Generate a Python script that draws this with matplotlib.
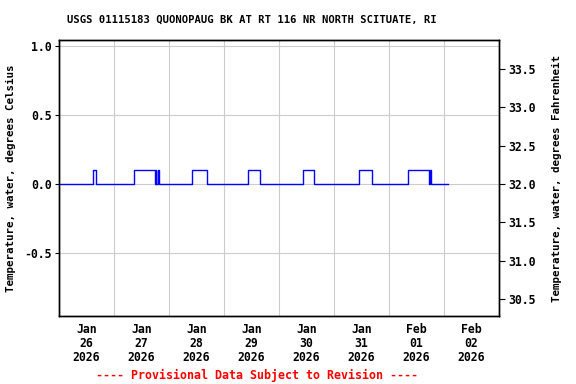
import pandas as pd
import matplotlib.pyplot as plt
import matplotlib.dates as mdates
import numpy as np

# 数据：温度变化点（摄氏度），阶梯状
change_times = ['2026-01-26 00:00', '2026-01-26 15:00', '2026-01-26 16:00',
                '2026-01-27 08:45', '2026-01-27 17:45', '2026-01-27 18:15',
                '2026-01-27 18:30', '2026-01-27 19:00', '2026-01-27 19:30',
                '2026-01-28 10:00', '2026-01-28 16:30',
                '2026-01-29 10:30', '2026-01-29 15:30',
                '2026-01-30 10:30', '2026-01-30 15:15',
                '2026-01-31 10:45', '2026-01-31 16:30',
                '2026-02-01 08:15', '2026-02-01 17:15', '2026-02-01 18:00',
                '2026-02-01 18:15', '2026-02-02 01:45']
temp_c = [0.0, 0.1, 0.0,
          0.1, 0.0, 0.1,
          0.0, 0.1, 0.0,
          0.1, 0.0,
          0.1, 0.0,
          0.1, 0.0,
          0.1, 0.0,
          0.1, 0.0, 0.1,
          0.0, 0.0]

day_labels = ['Jan\n26\n2026', 'Jan\n27\n2026', 'Jan\n28\n2026', 'Jan\n29\n2026',
              'Jan\n30\n2026', 'Jan\n31\n2026', 'Feb\n01\n2026', 'Feb\n02\n2026']
left_ticks = [-0.5, 0.0, 0.5, 1.0]
right_ticks = [30.5, 31.0, 31.5, 32.0, 32.5, 33.0, 33.5]

title = 'USGS 01115183 QUONOPAUG BK AT RT 116 NR NORTH SCITUATE, RI'
footer = '---- Provisional Data Subject to Revision ----'

plt.rcParams['font.family'] = ['DejaVu Sans Mono']
plt.rcParams['font.weight'] = 'bold'

t = pd.to_datetime(change_times)
start = pd.Timestamp('2026-01-26')
end = pd.Timestamp('2026-02-03')

fig = plt.figure(figsize=(5.76, 3.84), dpi=100)
ax = fig.add_axes([59 / 576, 68 / 384, 440 / 576, 276 / 384])

ax.plot(t, temp_c, color='#0000ff', linewidth=1, drawstyle='steps-post', zorder=3)

ax.set_xlim(start, end)
ylo, yhi = -0.957, 1.043
ax.set_ylim(ylo, yhi)

# 网格在午夜，标签在正午
midnights = pd.date_range(start, end, freq='D')
noons = midnights[:-1] + pd.Timedelta(hours=12)
ax.set_xticks(midnights)
ax.set_xticklabels([''] * len(midnights))
ax.set_xticks(noons, minor=True)
ax.set_xticklabels(day_labels, minor=True, fontsize=8.3, fontweight='bold', linespacing=1.1)
ax.tick_params(axis='x', which='both', length=0, pad=5)
ax.grid(True, which='major', axis='x', color='#cccccc', linewidth=0.8)

ax.set_yticks(left_ticks)
ax.set_yticklabels([f'{v:.1f}' for v in left_ticks], fontsize=8.3, fontweight='bold')
ax.tick_params(axis='y', length=3, direction='out', pad=2)
ax.grid(True, axis='y', color='#cccccc', linewidth=0.8)
ax.set_axisbelow(True)
ax.set_ylabel('Temperature, water, degrees Celsius', fontsize=7.8, fontweight='bold', labelpad=6)

ax2 = ax.twinx()
ax2.set_ylim(ylo * 1.8 + 32, yhi * 1.8 + 32)
ax2.set_yticks(right_ticks)
ax2.set_yticklabels([f'{v:.1f}' for v in right_ticks], fontsize=8.3, fontweight='bold')
ax2.tick_params(axis='y', length=4, direction='out', pad=3)
ax2.set_ylabel('Temperature, water, degrees Fahrenheit', fontsize=7.8, fontweight='bold', labelpad=11)

for a in (ax, ax2):
    for s in a.spines.values():
        s.set_linewidth(1)

fig.text(252 / 576, 1 - 20 / 384, title, ha='center', va='center',
         fontsize=7.6, fontweight='bold')
fig.text(257 / 576, 1 - 375 / 384, footer, ha='center', va='center',
         fontsize=8.4, fontweight='bold', color='#ff0000')

fig.savefig('out.png', dpi=100)
